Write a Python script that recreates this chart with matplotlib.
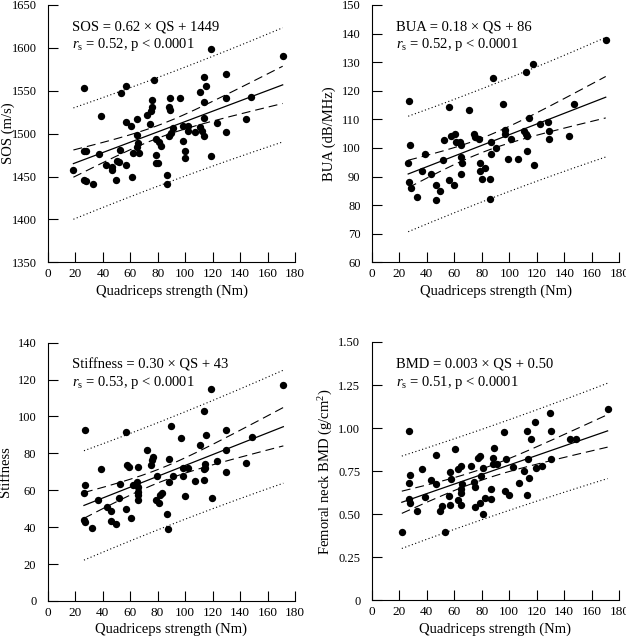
import numpy as np
import matplotlib
matplotlib.use("Agg")
import matplotlib.pyplot as plt

plt.rcParams["font.family"] = ["Liberation Serif", "DejaVu Serif"]
plt.rcParams["mathtext.fontset"] = "custom"
plt.rcParams["mathtext.rm"] = "Liberation Serif"
plt.rcParams["mathtext.it"] = "Liberation Serif:italic"

# ── Data ──────────────────────────────────────────────────────────
sos_qs = [119, 171, 26.5, 57, 53, 77.5, 129.5, 113.5, 115, 111, 76, 89, 96, 130, 148,
          113.5, 76, 75, 88, 89, 72, 38.5, 64.5, 57, 60.5, 74, 114, 144, 123, 91, 98,
          102, 102, 107, 111, 112, 114, 130, 64.5, 79, 81, 82.5, 88, 89.5, 98, 65.5, 65,
          26, 28, 52.5, 37, 62, 66, 100, 100, 119, 79, 79, 80, 50, 51.5, 42.5, 46.5,
          46.5, 56.5, 18.5, 87, 61, 49.5, 26.5, 28, 32.5, 87]
sos = [1599, 1590, 1553, 1555, 1547, 1563, 1570, 1566, 1556, 1549, 1539, 1542, 1541, 1541,
       1543, 1537, 1531, 1526, 1531, 1527, 1522, 1521, 1517, 1513, 1509, 1511, 1518, 1517,
       1512, 1507, 1509, 1509, 1503, 1502, 1508, 1503, 1497, 1502, 1499, 1494, 1490, 1486,
       1497, 1501, 1492, 1489, 1485, 1480, 1480, 1481, 1476, 1478, 1478, 1480, 1472, 1474,
       1475, 1466, 1466, 1468, 1467, 1464, 1461, 1458, 1463, 1458, 1452, 1450, 1446, 1446,
       1445, 1441, 1441]

bua_qs = [170, 117, 112, 88, 27, 56, 71, 95.5, 147, 114, 128, 122, 97, 97, 129, 110.5,
          112, 113, 129, 143, 74, 75, 78, 60.5, 57.5, 52.5, 61, 64, 64.5, 28, 101, 87, 90,
          87, 113, 39, 65, 51.5, 65.5, 99, 106, 26.5, 78.5, 78.5, 82, 118, 36.5, 43, 64.5,
          80, 86, 56, 27, 28.5, 46.5, 60, 49.5, 33, 46.5, 86]
bua = [137.6, 129.5, 126.5, 124.4, 116.3, 114.3, 113.2, 115.3, 115.4, 110.3, 109.1, 108.2,
       106.2, 105.0, 106.1, 106.0, 105.0, 104.1, 103.0, 104.1, 105.0, 103.8, 103.1, 105.0,
       104.1, 102.9, 102.1, 102.1, 101.2, 100.9, 103.1, 102.1, 100.0, 97.9, 99.1, 97.9,
       96.8, 95.9, 94.7, 96.0, 96.0, 94.9, 94.9, 92.0, 93.0, 94.0, 92.0, 90.9, 90.9, 89.0,
       89.0, 88.9, 88.1, 86.0, 87.0, 86.9, 85.0, 83.0, 81.9, 82.0]

stiff_qs = [119, 171.5, 114, 27, 57, 89.5, 129.5, 97, 115, 148.5, 111, 72.5, 130, 77, 76,
            75, 88, 57.5, 59.5, 65.5, 39, 98.5, 102, 114.5, 114.5, 123.5, 144.5, 113.5,
            79.5, 91, 98.5, 88.5, 107.5, 114, 130, 65, 62, 65.5, 52.5, 27, 26.5, 66, 65.5,
            83, 81.5, 52, 65.5, 100, 119.5, 79, 81, 37, 43, 46.5, 57, 26.5, 27.5, 32.5,
            46.5, 49.5, 61, 87, 87.5]
stiff = [114.9, 116.9, 103.0, 92.7, 91.6, 94.8, 92.7, 88.5, 90.0, 88.7, 84.7, 81.8, 81.8,
         77.9, 76.4, 73.7, 77.0, 73.5, 72.8, 72.4, 71.7, 72.3, 72.3, 74.1, 72.3, 75.7, 74.8,
         71.5, 67.5, 67.9, 67.9, 64.7, 64.8, 65.6, 70.1, 64.5, 62.9, 62.0, 63.4, 62.7, 58.5,
         59.2, 57.4, 58.7, 57.4, 55.6, 54.7, 56.7, 55.6, 54.7, 53.1, 54.5, 50.7, 48.8, 49.8,
         43.9, 42.6, 39.7, 43.5, 41.7, 44.8, 47.0, 39.0]

bmd_qs = [171.5, 129.5, 27.5, 118.5, 113, 130.5, 96, 115.5, 144.5, 148.5, 89, 61, 47, 79,
          77, 98, 88, 114, 130.5, 88, 91, 65, 72.5, 62.5, 81, 37, 102.5, 123.5, 119.5, 57,
          111, 28, 79.5, 58, 114.5, 43, 27.5, 46.5, 74.5, 65.5, 75.5, 107, 65, 87, 97,
          100, 65, 56.5, 113, 39, 27, 82.5, 87, 62.5, 28, 65, 57, 79, 75, 51.5, 50, 33, 81,
          22, 53.5]
bmd = [1.111, 1.088, 0.986, 1.034, 0.986, 0.986, 0.976, 0.937, 0.937, 0.935, 0.885, 0.879,
       0.846, 0.839, 0.825, 0.823, 0.829, 0.823, 0.819, 0.792, 0.790, 0.782, 0.782, 0.763,
       0.767, 0.765, 0.775, 0.782, 0.767, 0.748, 0.751, 0.730, 0.722, 0.707, 0.713, 0.697,
       0.684, 0.676, 0.689, 0.676, 0.660, 0.684, 0.647, 0.647, 0.635, 0.614, 0.622, 0.608,
       0.612, 0.599, 0.589, 0.597, 0.591, 0.581, 0.566, 0.554, 0.552, 0.566, 0.541, 0.546,
       0.519, 0.517, 0.504, 0.397, 0.397]

ylabels = ["SOS (m/s)", "BUA (dB/MHz)", "Stiffness", "Femoral neck BMD (g/cm$^2$)"]
equations = ["SOS = 0.62 × QS + 1449", "BUA = 0.18 × QS + 86",
             "Stiffness = 0.30 × QS + 43", "BMD = 0.003 × QS + 0.50"]
rs_texts = ["0.52", "0.52", "0.53", "0.51"]
ylims = [(1350, 1650), (60, 150), (0, 140), (0, 1.5)]
ystep = [50, 10, 20, 0.25]
ytick_fmt = ["{:.0f}", "{:.0f}", "{:.0f}", "{:.2f}"]

T_CRIT = 1.994  # two-sided 95% t value, ~70 df

# axes rectangles in figure fractions  [left, bottom, width, height]
rects = [[0.0767, 0.5895, 0.3946, 0.4027],
         [0.5938, 0.5895, 0.3958, 0.4027],
         [0.0759, 0.0595, 0.3954, 0.4042],
         [0.5935, 0.0603, 0.3958, 0.4045]]
ylabel_x = [-0.162, -0.173, -0.168, -0.184]

panels = [(sos_qs, sos), (bua_qs, bua), (stiff_qs, stiff), (bmd_qs, bmd)]

fig = plt.figure(figsize=(6.26, 6.39), dpi=100)

for i, (qs, y) in enumerate(panels):
    ax = fig.add_axes(rects[i])
    x = np.asarray(qs, float)
    y = np.asarray(y, float)

    # ── regression + 95% CI of mean + 95% prediction interval ─────
    slope, icpt = np.polyfit(x, y, 1)
    n = len(x)
    resid = y - (slope * x + icpt)
    s = np.sqrt(np.sum(resid ** 2) / (n - 2))
    sxx = np.sum((x - x.mean()) ** 2)
    xs = np.linspace(x.min(), x.max(), 200)
    fit = slope * xs + icpt
    se_mean = s * np.sqrt(1 / n + (xs - x.mean()) ** 2 / sxx)
    se_pred = s * np.sqrt(1 + 1 / n + (xs - x.mean()) ** 2 / sxx)

    ax.plot(xs, fit, color="black", lw=0.9)
    for sgn in (1, -1):
        ax.plot(xs, fit + sgn * T_CRIT * se_mean, color="black", lw=0.8,
                linestyle=(0, (8, 4.5)))
        ax.plot(xs, fit + sgn * T_CRIT * se_pred, color="black", lw=0.8,
                linestyle=(0, (1, 2.2)))

    ax.scatter(x, y, s=28, color="black", zorder=3, linewidths=0)

    # ── axes styling ───────────────────────────────────────────────
    ax.set_xlim(0, 180)
    ax.set_ylim(*ylims[i])
    ax.set_xticks(np.arange(0, 181, 20))
    yt = np.arange(ylims[i][0], ylims[i][1] + ystep[i] / 2, ystep[i])
    ax.set_yticks(yt)
    ax.set_yticklabels(["0" if v == 0 else ytick_fmt[i].format(v) for v in yt])
    for side in ("top", "right"):
        ax.spines[side].set_visible(False)
    for side in ("left", "bottom"):
        ax.spines[side].set_linewidth(0.8)
    ax.tick_params(direction="in", length=7, width=0.8)
    ax.tick_params(axis="x", pad=4, labelsize=9.5)
    ax.tick_params(axis="y", pad=8, labelsize=9)

    ax.set_xlabel("Quadriceps strength (Nm)", fontsize=10.5, labelpad=3)
    ax.set_ylabel(ylabels[i], fontsize=10.5, va="center")
    ax.yaxis.set_label_coords(ylabel_x[i], 0.5)

    ax.text(0.098, 0.94, equations[i] + "\n" +
            r"$r_{\mathrm{s}}$" + f" = {rs_texts[i]}, p < 0.0001",
            transform=ax.transAxes, ha="left", va="top", fontsize=10.5,
            linespacing=1.25)

fig.savefig("out.png", dpi=100)
